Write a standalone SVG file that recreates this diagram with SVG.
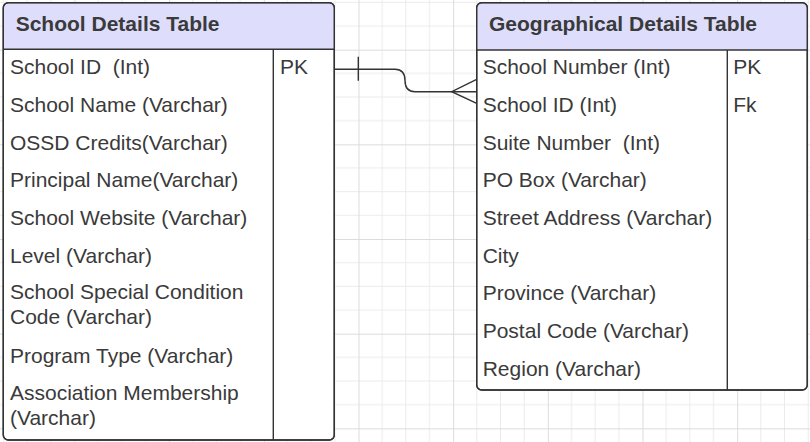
<svg xmlns="http://www.w3.org/2000/svg" width="810" height="442" viewBox="0 0 810 442">
  <style>
    .tbl { fill: #ffffff; stroke: #333333; stroke-width: 1.4; }
    .hdr { fill: #dedefc; stroke: none; }
    .ln { stroke: #333333; stroke-width: 1.4; fill: none; }
    .title { font-family: "Liberation Sans", Arial, sans-serif; font-size: 21px; font-weight: bold; fill: #3a3a3a; }
    .txt { font-family: "Liberation Sans", Arial, sans-serif; font-size: 21px; fill: #3a3a3a; }
    .conn { stroke: #333333; stroke-width: 1.4; fill: none; }
  </style>
  <defs>
    <pattern id="grid" patternUnits="userSpaceOnUse" x="-20.2" y="-45" width="94.67" height="94.67">
      <path d="M23.67,0V94.67M47.33,0V94.67M71,0V94.67M0,23.67H94.67M0,47.33H94.67M0,71H94.67" stroke="#ebebeb" stroke-width="1" fill="none"/>
      <path d="M0.5,0V94.67M0,0.5H94.67" stroke="#dcdcdc" stroke-width="1" fill="none"/>
    </pattern>
  </defs>
  <rect x="0" y="0" width="810" height="442" fill="#ffffff"/>
  <rect x="0" y="0" width="810" height="442" fill="url(#grid)"/>

  <g id="school-details-table">
    <rect class="tbl" x="3.3" y="2.7" width="331" height="437.3" rx="5"/>
    <path class="hdr" d="M4,49.3 V8 A5,5 0 0 1 8.3,3.4 H329.3 A5,5 0 0 1 333.6,8 V49.3 Z"/>
    <rect x="3.3" y="2.7" width="331" height="437.3" rx="5" fill="none" stroke="#333333" stroke-width="1.4"/>
    <line class="ln" x1="3.3" y1="49.3" x2="334.3" y2="49.3"/>
    <line class="ln" x1="273.3" y1="49.3" x2="273.3" y2="440"/>
    <text class="title" x="15.7" y="30.7">School Details Table</text>
    <text class="txt" x="10" y="74" xml:space="preserve">School ID  (Int)</text>
    <text class="txt" x="280" y="74">PK</text>
    <text class="txt" x="10" y="111.7">School Name (Varchar)</text>
    <text class="txt" x="10" y="150">OSSD Credits(Varchar)</text>
    <text class="txt" x="10" y="187.3">Principal Name(Varchar)</text>
    <text class="txt" x="10" y="225">School Website (Varchar)</text>
    <text class="txt" x="10" y="262.7">Level (Varchar)</text>
    <text class="txt" x="10" y="299.3">School Special Condition</text>
    <text class="txt" x="10" y="324.3">Code (Varchar)</text>
    <text class="txt" x="10" y="362.7">Program Type (Varchar)</text>
    <text class="txt" x="10" y="400">Association Membership</text>
    <text class="txt" x="10" y="425">(Varchar)</text>
  </g>

  <g id="geographical-details-table">
    <rect class="tbl" x="476.7" y="2.7" width="330.6" height="387.3" rx="5"/>
    <path class="hdr" d="M477.4,50 V8 A5,5 0 0 1 481.7,3.4 H802.3 A5,5 0 0 1 806.6,8 V50 Z"/>
    <rect x="476.7" y="2.7" width="330.6" height="387.3" rx="5" fill="none" stroke="#333333" stroke-width="1.4"/>
    <line class="ln" x1="476.7" y1="50" x2="807.3" y2="50"/>
    <line class="ln" x1="727.3" y1="50" x2="727.3" y2="390"/>
    <text class="title" x="489" y="30.7">Geographical Details Table</text>
    <text class="txt" x="482.7" y="73.5">School Number (Int)</text>
    <text class="txt" x="733.3" y="73.5">PK</text>
    <text class="txt" x="482.7" y="111.7">School ID (Int)</text>
    <text class="txt" x="733.3" y="111.7">Fk</text>
    <text class="txt" x="482.7" y="150" xml:space="preserve">Suite Number  (Int)</text>
    <text class="txt" x="482.7" y="186.7">PO Box (Varchar)</text>
    <text class="txt" x="482.7" y="225">Street Address (Varchar)</text>
    <text class="txt" x="482.7" y="262.7">City</text>
    <text class="txt" x="482.7" y="300">Province (Varchar)</text>
    <text class="txt" x="482.7" y="337.7">Postal Code (Varchar)</text>
    <text class="txt" x="482.7" y="376">Region (Varchar)</text>
  </g>

  <g id="connectors">
    <path class="conn" d="M334.3,69.3 H395 Q405,69.3 405,80.5 Q405,91.7 415,91.7 H476.7"/>
    <line class="conn" x1="358.3" y1="56.7" x2="358.3" y2="80.7"/>
    <path class="conn" d="M476.7,79.3 L451.7,91.7 L476.7,103.3"/>
  </g>
</svg>
